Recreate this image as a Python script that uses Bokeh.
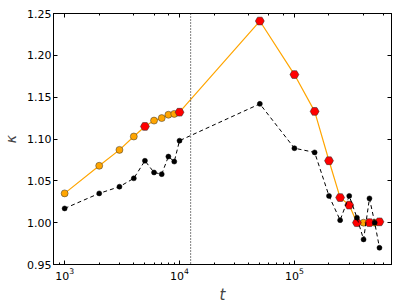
from bokeh.plotting import figure
from bokeh.models import (Range1d, LogAxis, LinearAxis, FixedTicker, Span,
                          NumeralTickFormatter, CustomJSTickFormatter, LogTicker)
from bokeh.embed import file_html
from bokeh.resources import INLINE

# orange series (all points)
t_orange = [1000, 2000, 3000, 4000, 5000, 6000, 7000, 8000, 9000, 10000,
            50000, 100000, 150000, 200000, 250000, 300000, 350000, 400000,
            450000, 500000, 550000]
k_orange = [1.035, 1.068, 1.087, 1.103, 1.115, 1.122, 1.125, 1.129, 1.130, 1.132,
            1.241, 1.177, 1.133, 1.074, 1.030, 1.021, 1.000, 1.000,
            1.000, 1.000, 1.001]
# highlighted (red) points of the orange series
t_red = [5000, 10000, 50000, 100000, 150000, 200000, 250000, 300000, 350000,
         450000, 550000]
k_red = [1.115, 1.132, 1.241, 1.177, 1.133, 1.074, 1.030, 1.021, 1.000,
         1.000, 1.001]
# black dashed series
t_black = [1000, 2000, 3000, 4000, 5000, 6000, 7000, 8000, 9000, 10000,
           50000, 100000, 150000, 200000, 250000, 300000, 350000, 400000,
           450000, 500000, 550000]
k_black = [1.017, 1.035, 1.043, 1.053, 1.074, 1.060, 1.058, 1.079, 1.073, 1.098,
           1.142, 1.089, 1.084, 1.032, 1.003, 1.032, 1.006, 0.980,
           1.029, 1.000, 0.970]
t_vline = 12500
y_ticks = [0.95, 1.00, 1.05, 1.10, 1.15, 1.20, 1.25]

p = figure(frame_width=338, frame_height=251, x_axis_type="log",
           x_range=Range1d(800, 7e5), y_range=Range1d(0.95, 1.25),
           output_backend="svg", toolbar_location=None,
           min_border_left=51, min_border_right=10, min_border_top=13,
           min_border_bottom=39)
p.xgrid.visible = False
p.ygrid.visible = False
p.outline_line_color = "black"
p.background_fill_color = "white"

def style_axis(ax, minor=True):
    ax.axis_line_color = "black"
    ax.major_tick_in = 4
    ax.major_tick_out = 0
    ax.minor_tick_in = 2 if minor else 0
    ax.minor_tick_out = 0
    ax.major_tick_line_color = "black"
    ax.minor_tick_line_color = "black" if minor else None
    ax.major_label_text_font = "DejaVu Sans"
    ax.major_label_text_font_size = "11px"
    ax.major_label_text_color = "black"

xa = p.xaxis[0]
style_axis(xa)
xa.major_label_standoff = 3
xa.axis_label = "t"
xa.axis_label_text_font = "DejaVu Sans"
xa.axis_label_text_font_style = "italic"
xa.axis_label_text_font_size = "15px"
xa.axis_label_standoff = 3

ya = p.yaxis[0]
style_axis(ya, minor=False)
ya.ticker = FixedTicker(ticks=y_ticks)
ya.formatter = NumeralTickFormatter(format="0.00")
ya.major_label_standoff = 2
ya.axis_label = "κ"
ya.axis_label_text_font = "DejaVu Sans"
ya.axis_label_text_font_style = "italic"
ya.axis_label_text_font_size = "14px"
ya.axis_label_standoff = 5

blank = CustomJSTickFormatter(code="return ''")
top = LogAxis(ticker=LogTicker(), formatter=blank)
style_axis(top)
p.add_layout(top, "above")
right = LinearAxis(ticker=FixedTicker(ticks=y_ticks), formatter=blank)
style_axis(right, minor=False)
p.add_layout(right, "right")

p.add_layout(Span(location=t_vline, dimension="height", line_color="black",
                  line_width=1, line_dash="1 2"))

p.line(t_orange, k_orange, line_color="orange", line_width=1.2)
p.scatter(t_orange, k_orange, marker="circle", size=7, fill_color="orange",
          line_color="#333333", line_width=0.5)
p.scatter(t_red, k_red, marker="hex", size=9, fill_color="red",
          line_color="#333333", line_width=0.5)

p.line(t_black, k_black, line_color="black", line_width=1, line_dash="4 3")
p.scatter(t_black, k_black, marker="circle", size=5, fill_color="black",
          line_color="black", line_width=0.5)

open("out.html", "w").write(file_html(p, INLINE))
